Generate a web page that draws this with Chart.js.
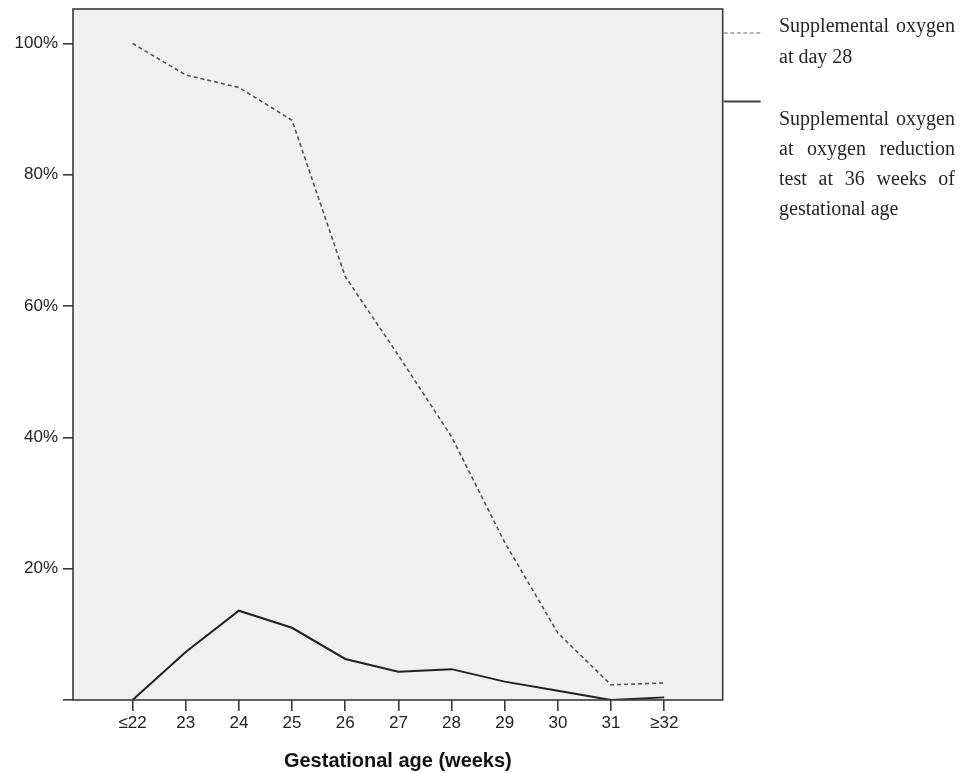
<!DOCTYPE html>
<html>
<head>
<meta charset="utf-8">
<script src="https://cdn.jsdelivr.net/npm/chart.js@4/dist/chart.umd.min.js"></script>
<style>
  html, body { margin: 0; padding: 0; background: #ffffff; }
  #wrap { width: 967px; height: 773px; position: relative; }
</style>
</head>
<body>
<div id="wrap"><canvas id="c" width="967" height="773"></canvas></div>
<script>
// ---- data ----
const categories = ["≤22", "23", "24", "25", "26", "27", "28", "29", "30", "31", "≥32"];
const xPositions = [22, 23, 24, 25, 26, 27, 28, 29, 30, 31, 32];
const oxygenDay28 = [100, 95.2, 93.3, 88.3, 64.5, 52.5, 40.1, 24.0, 10.2, 2.3, 2.6];
const oxygenReductionTest = [0, 7.3, 13.6, 11.0, 6.25, 4.3, 4.7, 2.8, 1.4, 0, 0.4];
const yTickValues = [0, 20, 40, 60, 80, 100];
const xTitle = "Gestational age (weeks)";
const legendDay28 = ["Supplemental oxygen", "at day 28"];
const legendReduction = ["Supplemental oxygen", "at oxygen reduction", "test at 36 weeks of", "gestational age"];

const toPoints = arr => arr.map((v, i) => ({ x: xPositions[i], y: v }));

function drawJustified(ctx, lines, x, y0, width, lineH) {
  lines.forEach((line, li) => {
    const y = y0 + li * lineH;
    const words = line.split(' ');
    if (li === lines.length - 1 || words.length < 2) {
      ctx.fillText(line, x, y);
      return;
    }
    const wordsW = words.reduce((s, w) => s + ctx.measureText(w).width, 0);
    const gap = (width - wordsW) / (words.length - 1);
    let cx = x;
    words.forEach(w => {
      ctx.fillText(w, cx, y);
      cx += ctx.measureText(w).width + gap;
    });
  });
}

const framePlugin = {
  id: 'frame',
  beforeDatasetsDraw(chart) {
    const { ctx, chartArea: a } = chart;
    ctx.save();
    ctx.fillStyle = '#f0f0f0';
    ctx.fillRect(a.left, a.top, a.right - a.left, a.bottom - a.top);
    ctx.restore();
  },
  afterDraw(chart) {
    const { ctx, chartArea: a } = chart;
    ctx.save();
    ctx.strokeStyle = '#3a3a3a';
    ctx.lineWidth = 1.6;
    ctx.strokeRect(a.left, a.top, a.right - a.left, a.bottom - a.top);

    // legend samples
    ctx.lineWidth = 1.5;
    ctx.strokeStyle = '#9a9a9a';
    ctx.setLineDash([4, 2.5]);
    ctx.beginPath();
    ctx.moveTo(a.right + 1, 33);
    ctx.lineTo(a.right + 38, 33);
    ctx.stroke();
    ctx.setLineDash([]);
    ctx.strokeStyle = '#444444';
    ctx.lineWidth = 2;
    ctx.beginPath();
    ctx.moveTo(a.right + 1, 101.5);
    ctx.lineTo(a.right + 38, 101.5);
    ctx.stroke();

    // legend text
    ctx.fillStyle = '#262626';
    ctx.font = '20px "Liberation Serif", "Times New Roman", serif';
    ctx.textBaseline = 'alphabetic';
    ctx.textAlign = 'left';
    drawJustified(ctx, legendDay28, 779, 31.5, 176, 31);
    drawJustified(ctx, legendReduction, 779, 125, 176, 30);
    ctx.restore();
  }
};

const tickFont = { family: '"Liberation Sans", Arial, sans-serif', size: 17 };

new Chart(document.getElementById('c'), {
  type: 'line',
  data: {
    datasets: [
      {
        label: legendDay28.join(' '),
        data: toPoints(oxygenDay28),
        borderColor: '#555555',
        borderWidth: 1.6,
        borderDash: [4, 3],
        pointRadius: 0,
        tension: 0,
        fill: false
      },
      {
        label: legendReduction.join(' '),
        data: toPoints(oxygenReductionTest),
        borderColor: '#222222',
        borderWidth: 2,
        pointRadius: 0,
        tension: 0,
        fill: false
      }
    ]
  },
  options: {
    responsive: false,
    animation: false,
    layout: { padding: { top: 9, right: 244.3, left: 0, bottom: 0 } },
    plugins: { legend: { display: false }, tooltip: { enabled: false } },
    scales: {
      x: {
        type: 'linear',
        min: 20.88,
        max: 33.1,
        afterBuildTicks: s => { s.ticks = xPositions.map(v => ({ value: v })); },
        afterFit: s => { s.height = 73; s.paddingLeft = 0; s.paddingRight = 0; },
        ticks: {
          callback: (v, i) => categories[i],
          font: tickFont,
          color: '#222222',
          padding: 2,
          maxRotation: 0,
          autoSkip: false
        },
        grid: { display: true, drawOnChartArea: false, drawTicks: true, tickLength: 11, color: '#3a3a3a', lineWidth: 1.6 },
        border: { display: false },
        title: {
          display: true,
          text: xTitle,
          font: { family: '"Liberation Sans", Arial, sans-serif', size: 20, weight: 'bold', lineHeight: 1.13 },
          color: '#111111',
          padding: { top: 0, bottom: 0 }
        }
      },
      y: {
        type: 'linear',
        min: 0,
        max: 105.25,
        afterBuildTicks: s => { s.ticks = yTickValues.map(v => ({ value: v })); },
        afterFit: s => { s.width = 73; s.paddingTop = 0; s.paddingBottom = 0; },
        ticks: {
          callback: v => (v === 0 ? '' : v + '%'),
          font: tickFont,
          color: '#222222',
          padding: 5,
          autoSkip: false
        },
        grid: { display: true, drawOnChartArea: false, drawTicks: true, tickLength: 10, color: '#3a3a3a', lineWidth: 1.6 },
        border: { display: false }
      }
    }
  },
  plugins: [framePlugin]
});
</script>
</body>
</html>
